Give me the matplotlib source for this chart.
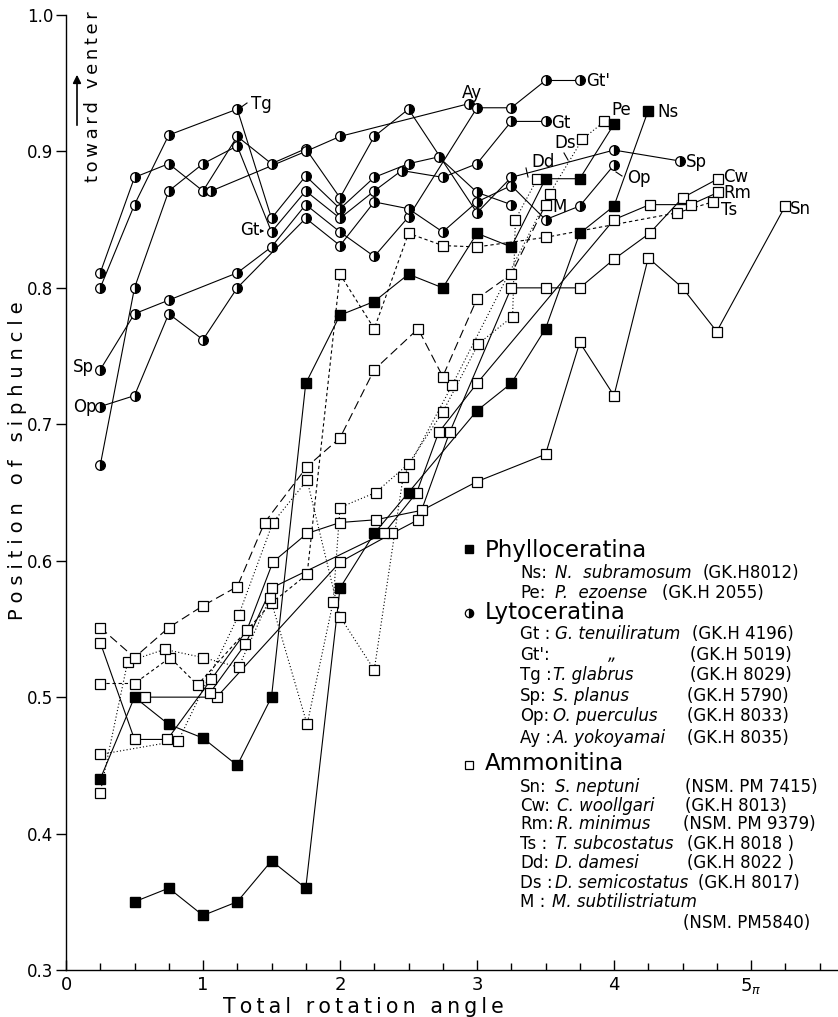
import matplotlib
matplotlib.use("Agg")
import matplotlib.pyplot as plt
from matplotlib.lines import Line2D
from matplotlib.font_manager import FontProperties
from matplotlib.ticker import FixedLocator

W, H = 838, 1017

# Phylloceratina (filled squares)
ns_x = [0.5, 0.75, 1.0, 1.25, 1.5, 1.75, 2.0, 2.25, 2.5, 3.0, 3.25, 3.5, 3.75, 4.0, 4.25]
ns_y = [0.35, 0.36, 0.34, 0.35, 0.38, 0.36, 0.58, 0.62, 0.65, 0.71, 0.73, 0.77, 0.84, 0.86, 0.93]
pe_x = [0.25, 0.5, 0.75, 1.0, 1.25, 1.5, 1.75, 2.0, 2.25, 2.5, 2.75, 3.0, 3.25, 3.5, 3.75, 4.0]
pe_y = [0.44, 0.50, 0.48, 0.47, 0.45, 0.50, 0.73, 0.78, 0.79, 0.81, 0.80, 0.84, 0.83, 0.88, 0.88, 0.92]

# Lytoceratina (half-filled circles)
sp_x = [0.25, 0.5, 0.75, 1.0, 1.25, 1.5, 1.75, 2.0, 2.25, 2.5, 3.0, 3.25, 4.0, 4.48]
sp_y = [0.811, 0.881, 0.891, 0.871, 0.911, 0.891, 0.902, 0.866, 0.911, 0.931, 0.855, 0.881, 0.901, 0.893]
tg_x = [0.25, 0.5, 0.75, 1.25, 1.5, 1.75, 2.0, 2.25, 2.5, 2.72, 3.0, 3.25]
tg_y = [0.80, 0.861, 0.912, 0.931, 0.851, 0.882, 0.858, 0.881, 0.891, 0.896, 0.870, 0.861]
gt_x = [0.25, 0.5, 0.75, 1.0, 1.25, 1.5, 1.75, 2.0, 2.25, 2.45, 2.75, 3.0, 3.25, 3.5]
gt_y = [0.67, 0.80, 0.871, 0.891, 0.904, 0.841, 0.871, 0.851, 0.871, 0.886, 0.881, 0.891, 0.922, 0.922]
ay_x = [1.06, 1.75, 2.0, 2.94]
ay_y = [0.871, 0.900, 0.911, 0.935]
gt2_x = [0.25, 0.5, 0.75, 1.25, 1.5, 1.75, 2.0, 2.25, 2.5, 3.0, 3.25, 3.5, 3.75]
gt2_y = [0.74, 0.781, 0.791, 0.811, 0.83, 0.861, 0.841, 0.823, 0.852, 0.932, 0.932, 0.952, 0.952]
op_x = [0.25, 0.5, 0.75, 1.0, 1.25, 1.75, 2.0, 2.25, 2.5, 2.75, 3.0, 3.25, 3.5, 3.75, 4.0]
op_y = [0.713, 0.721, 0.781, 0.762, 0.80, 0.851, 0.831, 0.863, 0.858, 0.841, 0.863, 0.875, 0.85, 0.86, 0.89]

# Ammonitina (open squares)
sn_x = [0.25, 0.5, 0.74, 1.06, 1.32, 1.51, 1.76, 2.0, 2.26, 2.6, 3.0, 3.5, 3.75, 4.0, 4.25, 4.5, 4.75, 5.25]
sn_y = [0.54, 0.469, 0.469, 0.513, 0.549, 0.599, 0.62, 0.628, 0.63, 0.637, 0.658, 0.678, 0.76, 0.721, 0.822, 0.80, 0.768, 0.86]
cw_x = [0.58, 1.1, 2.0, 2.38, 2.57, 2.8, 3.25, 3.5, 3.75, 4.0, 4.26, 4.5, 4.76]
cw_y = [0.50, 0.50, 0.599, 0.62, 0.63, 0.694, 0.80, 0.80, 0.80, 0.821, 0.84, 0.866, 0.88]
rm_x = [1.05, 1.31, 1.5, 2.32, 2.56, 2.72, 3.0, 4.0, 4.26, 4.56, 4.76]
rm_y = [0.503, 0.539, 0.58, 0.62, 0.65, 0.694, 0.73, 0.85, 0.861, 0.861, 0.87]
ts_x = [0.25, 0.5, 0.76, 0.96, 1.5, 1.76, 2.0, 2.25, 2.5, 2.75, 3.0, 3.5, 4.46, 4.72]
ts_y = [0.51, 0.51, 0.529, 0.509, 0.569, 0.59, 0.81, 0.77, 0.84, 0.831, 0.83, 0.837, 0.855, 0.863]
dd_x = [0.25, 0.45, 0.72, 1.0, 1.26, 1.49, 1.76, 1.95, 2.0, 2.26, 2.5, 2.75, 3.01, 3.26, 3.28, 3.44]
dd_y = [0.43, 0.526, 0.535, 0.529, 0.522, 0.573, 0.48, 0.57, 0.639, 0.65, 0.671, 0.709, 0.759, 0.779, 0.85, 0.88]
ds_x = [0.25, 0.82, 1.26, 1.51, 1.76, 2.0, 2.25, 2.46, 2.82, 3.53, 3.77, 3.93]
ds_y = [0.458, 0.468, 0.56, 0.628, 0.659, 0.559, 0.52, 0.661, 0.729, 0.869, 0.909, 0.922]
m_x = [0.25, 0.5, 0.75, 1.0, 1.25, 1.45, 1.76, 2.0, 2.25, 2.57, 2.75, 3.0, 3.25, 3.5]
m_y = [0.551, 0.529, 0.551, 0.567, 0.581, 0.628, 0.669, 0.69, 0.74, 0.77, 0.735, 0.792, 0.81, 0.861]

x_ticks = [0, 1, 2, 3, 4, 5]
x_ticklabels = ["0", "1", "2", "3", "4", r"5$_{\pi}$"]
y_ticks = [0.3, 0.4, 0.5, 0.6, 0.7, 0.8, 0.9, 1.0]
y_ticklabels = ["0.3", "0.4", "0.5", "0.6", "0.7", "0.8", "0.9", "1.0"]

phyllo = [(ns_x, ns_y), (pe_x, pe_y)]
lyto = [(sp_x, sp_y), (tg_x, tg_y), (gt_x, gt_y), (ay_x, ay_y), (gt2_x, gt2_y), (op_x, op_y)]
ammo = [(sn_x, sn_y, "-"), (cw_x, cw_y, "-"), (rm_x, rm_y, "-"),
        (ts_x, ts_y, (0, (3, 2.5))), (dd_x, dd_y, (0, (1, 2))),
        (ds_x, ds_y, (0, (1, 2))), (m_x, m_y, (0, (8, 4)))]

fig = plt.figure(figsize=(W / 100, H / 100), dpi=100)
ax = fig.add_axes([66 / W, 1 - 970 / H, 1 - 66 / W, 955 / H])
LW = 0.8

# lines first
for xs, ys in phyllo + lyto:
    ax.plot(xs, ys, color="black", lw=LW, zorder=2)
for xs, ys, ls in ammo:
    ax.plot(xs, ys, color="black", lw=LW, ls=ls, zorder=2)

# markers on top
for xs, ys, ls in ammo:
    ax.plot(xs, ys, ls="none", marker="s", ms=6.5, mfc="white", mec="black", mew=0.9, zorder=3)
for xs, ys in lyto:
    ax.plot(xs, ys, ls="none", marker="o", ms=7, fillstyle="right", mfc="black",
            markerfacecoloralt="white", mec="black", mew=0.9, zorder=4)
for xs, ys in phyllo:
    ax.plot(xs, ys, ls="none", marker="s", ms=6.5, mfc="black", mec="black", zorder=5)

ax.set_xlim(0, 772 / 137)
ax.set_ylim(0.3, 1.0)
for s in ["top", "right"]:
    ax.spines[s].set_visible(False)
ax.spines["left"].set_linewidth(1.0)
ax.spines["bottom"].set_linewidth(1.0)
ax.xaxis.set_major_locator(FixedLocator(x_ticks))
ax.xaxis.set_minor_locator(FixedLocator([i * 0.25 for i in range(1, 23) if i % 4]))
ax.set_xticklabels(x_ticklabels)
ax.set_yticks(y_ticks)
ax.set_yticklabels(y_ticklabels)
ax.tick_params(axis="x", which="major", direction="in", length=7, width=1, labelsize=13, pad=4)
ax.tick_params(axis="x", which="minor", direction="in", length=5, width=1)
ax.tick_params(axis="y", which="major", direction="out", length=7, width=1, labelsize=12, pad=2)
ax.patch.set_alpha(0)

renderer = fig.canvas.get_renderer()


def spaced(s, x0, y0, size, span, vertical=False):
    # letter-spaced label as one text: pick the spacer that best fills the span
    fp = FontProperties(size=size)
    best = s
    for sep in ["", "\u200a", "\u2009", "\u2009\u200a", "\u2009\u2009", "\u2009\u2009\u200a"]:
        cand = sep.join(s)
        w = renderer.get_text_width_height_descent(cand, fp, ismath=False)[0]
        if abs(w - span) < abs(renderer.get_text_width_height_descent(best, fp, ismath=False)[0] - span):
            best = cand
    if vertical:
        fig.text(x0 / W, 1 - y0 / H, best, fontproperties=fp, rotation=90,
                 rotation_mode="anchor", ha="left", va="baseline")
    else:
        fig.text(x0 / W, 1 - y0 / H, best, fontproperties=fp, ha="left", va="baseline")


spaced("Total rotation angle", 223, 1013, 14.8, 285)
spaced("Position of siphuncle", 23, 620, 14, 335, vertical=True)
spaced("toward venter", 98, 182, 13, 162, vertical=True)
ax.annotate("", xy=(77, H - 72), xytext=(77, H - 128), xycoords="figure pixels",
            textcoords="figure pixels",
            arrowprops=dict(arrowstyle="-|>", lw=1.2, color="black", mutation_scale=12))


def ftext(x, y, s, size=12, ha="left", **kw):
    fig.text(x / W, 1 - y / H, s, fontsize=size, ha=ha, va="center", **kw)


def seg(x1, y1, x2, y2):
    fig.add_artist(Line2D([x1 / W, x2 / W], [1 - y1 / H, 1 - y2 / H], color="black",
                          lw=0.8, transform=fig.transFigure))


# series labels on the plot
ftext(251, 104, "Tg")
seg(240, 108, 247, 103)
ftext(240, 230, "Gt")
ax.annotate("", xy=(267, H - 231), xytext=(259, H - 231), xycoords="figure pixels",
            textcoords="figure pixels",
            arrowprops=dict(arrowstyle="-|>", lw=0.7, color="black", mutation_scale=5))
ftext(472, 93, "Ay", ha="center")
ftext(586, 81, "Gt'")
ftext(551, 123, "Gt")
ftext(611, 110, "Pe")
ftext(657, 112, "Ns")
ftext(554, 143, "Ds")
seg(564, 153, 568, 160)
ftext(531, 162, "Dd")
seg(526, 168, 528, 177)
ftext(627, 178, "Op")
seg(616, 172, 622, 176)
ftext(686, 162, "Sp")
ftext(723, 177, "Cw")
ftext(723, 193, "Rm")
ftext(721, 210, "Ts")
ftext(790, 209, "Sn")
ftext(552, 207, "M")
ftext(73, 367, "Sp")
ftext(73, 407, "Op")


# legend block
def mark(x, y, **kw):
    fig.add_artist(Line2D([x / W], [1 - y / H], color="black", ls="none",
                          transform=fig.transFigure, **kw))


mark(469, 549, marker="s", ms=5.5, mfc="black", mec="black")
mark(469, 613, marker="o", ms=6, fillstyle="right", mfc="black",
     markerfacecoloralt="white", mec="black", mew=0.9)
mark(469, 765, marker="s", ms=5.5, mfc="white", mec="black", mew=0.9)
ftext(485, 551, "Phylloceratina", size=16.5)
ftext(485, 612, "Lytoceratina", size=16.5)
ftext(485, 764, "Ammonitina", size=16.5)

entries = [
    (573, "Ns:", "N.  subramosum", 555, "(GK.H8012)", 703),
    (593, "Pe:", "P.  ezoense", 555, "(GK.H 2055)", 662),
    (634, "Gt :", "G. tenuiliratum", 555, "(GK.H 4196)", 692),
    (655, "Gt':", "\u201e", 608, "(GK.H 5019)", 690),
    (675, "Tg :", "T. glabrus", 553, "(GK.H 8029)", 690),
    (696, "Sp:", "S. planus", 553, "(GK.H 5790)", 687),
    (716, "Op:", "O. puerculus", 553, "(GK.H 8033)", 687),
    (738, "Ay :", "A. yokoyamai", 553, "(GK.H 8035)", 687),
    (787, "Sn:", "S. neptuni", 555, "(NSM. PM 7415)", 685),
    (806, "Cw:", "C. woollgari", 557, "(GK.H 8013)", 685),
    (824, "Rm:", "R. minimus", 557, "(NSM. PM 9379)", 683),
    (844, "Ts :", "T. subcostatus", 555, "(GK.H 8018 )", 687),
    (863, "Dd:", "D. damesi", 555, "(GK.H 8022 )", 687),
    (883, "Ds :", "D. semicostatus", 555, "(GK.H 8017)", 698),
    (902, "M :", "M. subtilistriatum", 552, "", 0),
]
for y, ab, sp, xs, code, xc in entries:
    ftext(520, y, ab)
    ftext(xs, y, sp, style="italic")
    if code:
        ftext(xc, y, code)
ftext(683, 923, "(NSM. PM5840)")

fig.savefig("out.png", dpi=100)
